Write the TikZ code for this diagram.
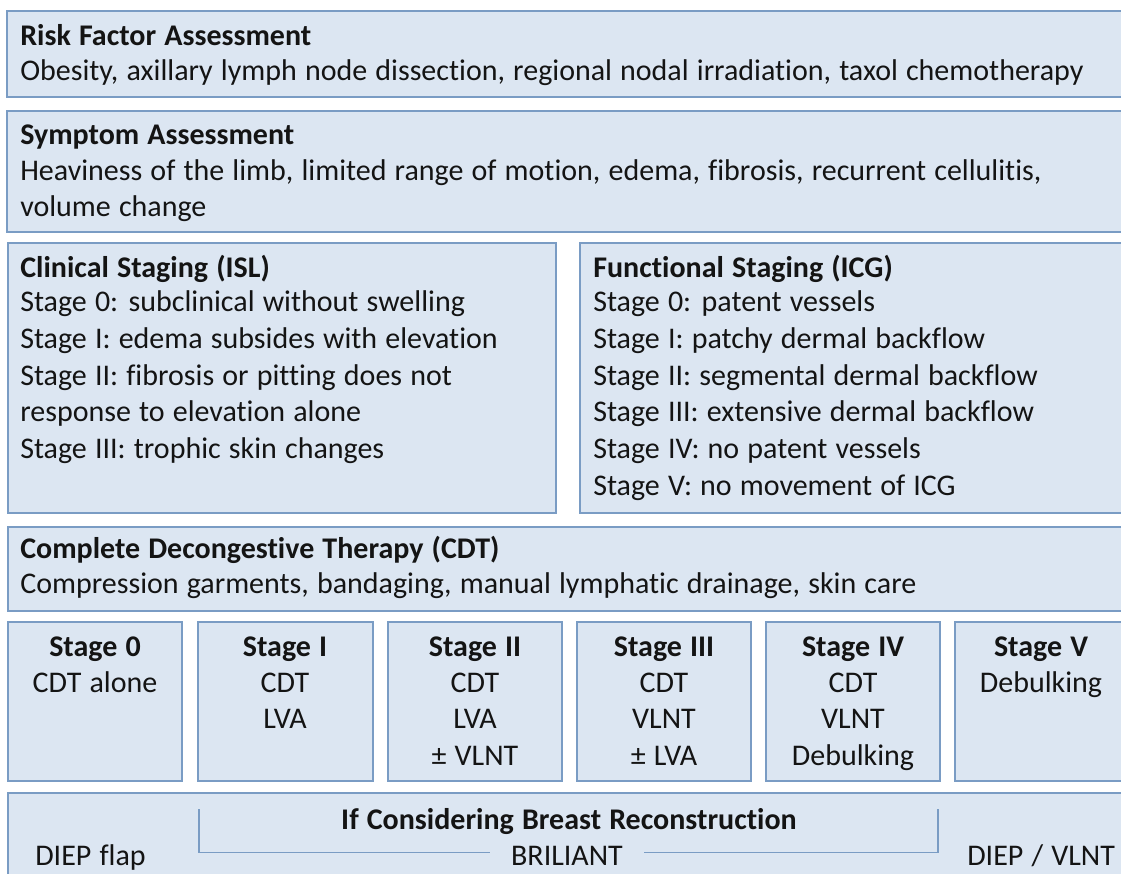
\documentclass[tikz,border=0pt]{standalone}
\usepackage{fontspec}
\setmainfont{Carlito}[WordSpace=1.2, Ligatures={NoCommon}]
\usetikzlibrary{fit}
\definecolor{boxfill}{RGB}{220,230,242}
\definecolor{boxline}{RGB}{122,156,196}
\definecolor{ink}{RGB}{20,20,20}
\begin{document}
\begin{tikzpicture}[x=0.75pt,y=-0.75pt,
  box/.style={draw=boxline, fill=boxfill, line width=1.2pt, inner sep=0pt, rectangle},
  txt/.style={anchor=base west, inner sep=0pt, text=ink, font=\fontsize{22.5}{26}\selectfont},
  ttl/.style={txt, font=\fontsize{22.5}{26}\selectfont\bfseries},
  ctxt/.style={anchor=base, inner sep=0pt, text=ink, font=\fontsize{22.5}{26}\selectfont},
  cttl/.style={ctxt, font=\fontsize{22.5}{26}\selectfont\bfseries},
  brk/.style={draw=boxline, line width=1.2pt}]
\useasboundingbox (0,0) rectangle (1121,874);
% boxes
\node[box, fit={(7,11)(1128,97)}] (risk) {};
\node[box, fit={(7,111)(1128,232)}] (symp) {};
\node[box, fit={(8,243)(556,513)}] (clin) {};
\node[box, fit={(580,243)(1128,513)}] (func) {};
\node[box, fit={(8,527)(1128,611)}] (cdt) {};
\node[box, fit={(8,622)(182,781)}] (s0) {};
\node[box, fit={(198,622)(373,781)}] (s1) {};
\node[box, fit={(388,622)(562,781)}] (s2) {};
\node[box, fit={(577,622)(751,781)}] (s3) {};
\node[box, fit={(766,622)(940,781)}] (s4) {};
\node[box, fit={(955,622)(1128,781)}] (s5) {};
\node[box, fit={(8,793)(1128,880)}] (recon) {};
% risk
\node[ttl] (riskT) at (20,46) {Risk Factor Assessment};
\node[txt] (riskB) at (20,81) {Obesity, axillary lymph node dissection, regional nodal irradiation, taxol chemotherapy};
% symptom
\node[ttl] (sympT) at (20,144) {Symptom Assessment};
\node[txt] (sympA) at (20,180) {Heaviness of the limb, limited range of motion, edema, fibrosis, recurrent cellulitis,};
\node[txt] (sympB) at (20,216) {volume change};
% clinical
\node[ttl] (clinT) at (20,277) {Clinical Staging (ISL)};
\node[txt] (clin0) at (20,311) {Stage 0: subclinical without swelling};
\node[txt] (clin1) at (20,348) {Stage I: edema subsides with elevation};
\node[txt] (clin2) at (20,385) {Stage II: fibrosis or pitting does not};
\node[txt] (clin2b) at (20,421) {response to elevation alone};
\node[txt] (clin3) at (20,458) {Stage III: trophic skin changes};
% functional
\node[ttl] (funcT) at (593,277) {Functional Staging (ICG)};
\node[txt] (func0) at (593,311) {Stage 0: patent vessels};
\node[txt] (func1) at (593,348) {Stage I: patchy dermal backflow};
\node[txt] (func2) at (593,385) {Stage II: segmental dermal backflow};
\node[txt] (func3) at (593,421) {Stage III: extensive dermal backflow};
\node[txt] (func4) at (593,458) {Stage IV: no patent vessels};
\node[txt] (func5) at (593,495) {Stage V: no movement of ICG};
% CDT
\node[ttl] (cdtT) at (20,558) {Complete Decongestive Therapy (CDT)};
\node[txt] (cdtB) at (20,593) {Compression garments, bandaging, manual lymphatic drainage, skin care};
% stages
\node[cttl] (s0T) at (95,656) {Stage 0};
\node[ctxt] (s0a) at (95,692) {CDT alone};
\node[cttl] (s1T) at (285,656) {Stage I};
\node[ctxt] (s1a) at (285,692) {CDT};
\node[ctxt] (s1b) at (285,728) {LVA};
\node[cttl] (s2T) at (475,656) {Stage II};
\node[ctxt] (s2a) at (475,692) {CDT};
\node[ctxt] (s2b) at (475,728) {LVA};
\node[ctxt] (s2c) at (475,765) {± VLNT};
\node[cttl] (s3T) at (664,656) {Stage III};
\node[ctxt] (s3a) at (664,692) {CDT};
\node[ctxt] (s3b) at (664,728) {VLNT};
\node[ctxt] (s3c) at (664,765) {± LVA};
\node[cttl] (s4T) at (853,656) {Stage IV};
\node[ctxt] (s4a) at (853,692) {CDT};
\node[ctxt] (s4b) at (853,728) {VLNT};
\node[ctxt] (s4c) at (853,765) {Debulking};
\node[cttl] (s5T) at (1041,656) {Stage V};
\node[ctxt] (s5a) at (1041,692) {Debulking};
% reconstruction
\node[cttl] (reconT) at (569,829) {If Considering Breast Reconstruction};
\node[txt] (diep) at (35,865) {DIEP flap};
\node[ctxt, inner xsep=16pt] (bri) at (567,865) {BRILIANT};
\node[txt] (diepv) at (967,865) {DIEP / VLNT};
\coordinate (bTL) at (199,809);
\coordinate (bTR) at (938,809);
\draw[brk] (bTL) |- ([yshift=2.2pt]bri.west);
\draw[brk] (bTR) |- ([yshift=2.2pt]bri.east);
\end{tikzpicture}
\end{document}
